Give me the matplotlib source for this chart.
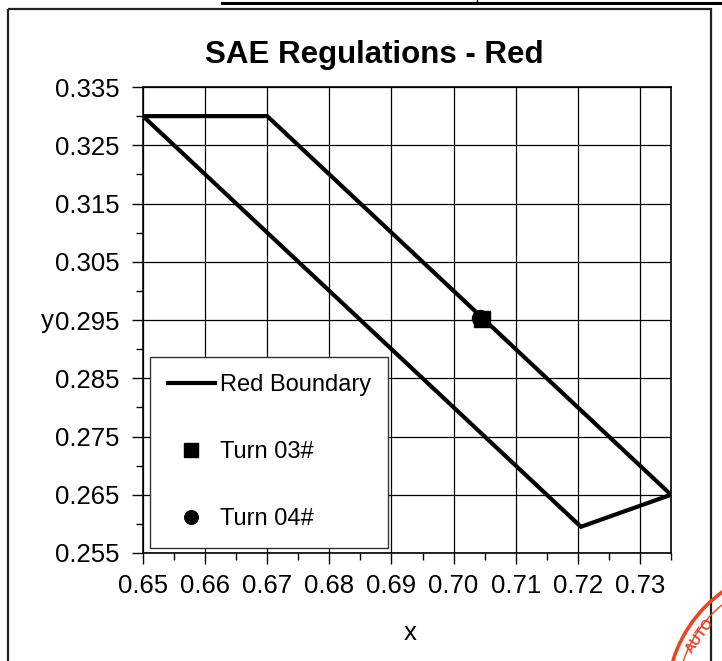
import numpy as np
import matplotlib
matplotlib.use('Agg')
import matplotlib.pyplot as plt
from matplotlib.patches import Arc, Rectangle
from matplotlib.ticker import MultipleLocator, FormatStrFormatter

plt.rcParams['font.family'] = ['Liberation Sans', 'DejaVu Sans']

# SAE red boundary (closed polygon in CIE x,y)
boundary_x = [0.650, 0.670, 0.735, 0.7205, 0.650]
boundary_y = [0.330, 0.330, 0.265, 0.2595, 0.330]

# measured chromaticity points
turn03_x = [0.70465]
turn03_y = [0.2952]
turn04_x = [0.7042]
turn04_y = [0.2953]

W, H = 722, 661
fig = plt.figure(figsize=(W / 100, H / 100), dpi=100)

# background layer in pixel coords: frame, table edge, stamp
bg = fig.add_axes([0, 0, 1, 1], zorder=0)
bg.set_xlim(0, W)
bg.set_ylim(H, 0)
bg.axis('off')
bg.add_patch(Rectangle((8, 9), 703, 700, fill=False, ec='#222222', lw=1.6))
bg.plot([222, 722], [3, 3], color='black', lw=2.2)
bg.plot([477, 477], [0, 3], color='black', lw=1)
red = '#e2472a'
bg.add_patch(Arc((800, 700), 266, 266, theta1=0, theta2=360, color=red, lw=2.6))
bg.add_patch(Arc((800, 700), 246, 246, theta1=0, theta2=360, color=red, lw=1.0))
bg.text(700, 636, 'AUTO', color=red, fontsize=10, fontweight='bold',
        rotation=55, ha='center', va='center')

fig.text(374 / W, 1 - 55 / H, 'SAE Regulations - Red', fontsize=22.5,
         fontweight='bold', ha='center', va='center')

ax = fig.add_axes([143 / W, 1 - 553 / H, 528 / W, 466 / H], zorder=1)
ax.patch.set_alpha(0)

ax.plot(boundary_x, boundary_y, color='black', lw=3, solid_joinstyle='miter',
        label='Red Boundary', zorder=3)
ax.plot(turn03_x, turn03_y, 's', color='black', ms=12, ls='none',
        label='Turn 03#', zorder=5)
ax.plot(turn04_x, turn04_y, 'o', color='black', ms=11.5, ls='none',
        label='Turn 04#', zorder=4)

ax.set_xlim(0.65, 0.735)
ax.set_ylim(0.255, 0.335)
ax.xaxis.set_major_locator(MultipleLocator(0.01))
ax.xaxis.set_minor_locator(MultipleLocator(0.005))
ax.yaxis.set_major_locator(MultipleLocator(0.01, offset=0.005))
ax.yaxis.set_minor_locator(MultipleLocator(0.005))
ax.xaxis.set_major_formatter(FormatStrFormatter('%.2f'))
ax.yaxis.set_major_formatter(FormatStrFormatter('%.3f'))
ax.tick_params(which='major', direction='out', length=8, width=1,
               labelsize=18.5, color='black')
ax.tick_params(which='minor', direction='out', length=5, width=1, color='black')
ax.tick_params(axis='y', pad=9)
ax.tick_params(axis='x', pad=7)
ax.grid(True, which='major', color='black', lw=0.9)
for s in ax.spines.values():
    s.set_color('black')
    s.set_linewidth(1.2)

ax.set_xlabel('x', fontsize=18.5)
ax.xaxis.set_label_coords(0.506, -0.172)
ax.xaxis.label.set_va('center')
ax.set_ylabel('y', fontsize=18.5, rotation=0)
ax.yaxis.set_label_coords(-0.181, 0.498)
ax.yaxis.label.set_va('center')

leg = ax.legend(loc='lower left', bbox_to_anchor=(0.013, 0.011), borderaxespad=0,
                fontsize=17, frameon=True, fancybox=False, labelspacing=1.9,
                handlelength=2.0, handletextpad=0.2, borderpad=0.75,
                markerscale=0.85)
leg.get_frame().set_edgecolor('#333333')
leg.get_frame().set_linewidth(1)
leg.get_frame().set_alpha(1)

plt.savefig('out.png', dpi=100)
